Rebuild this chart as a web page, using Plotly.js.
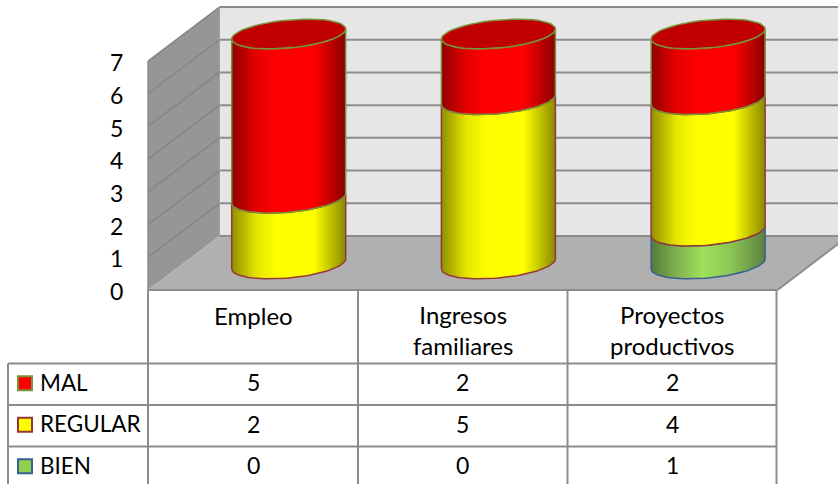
<!DOCTYPE html>
<html><head><meta charset="utf-8">
<script src="https://cdn.plot.ly/plotly-3.0.1.min.js"></script>
<style>html,body{margin:0;padding:0;background:#fff}#c{width:838px;height:484px}</style>
</head><body><div id="c"></div>
<script>
var categories = ["Empleo", "Ingresos<br>familiares", "Proyectos<br>productivos"];
var seriesNames = ["MAL", "REGULAR", "BIEN"];
var mal = [5, 2, 2];
var regular = [2, 5, 4];
var bien = [0, 0, 1];
var yTicks = [0, 1, 2, 3, 4, 5, 6, 7];

var W = 838, H = 484;
var px = function (x) { return x / W; };
var py = function (y) { return 1 - y / H; };
var fontFam = "Lato, Carlito, sans-serif";

// scales: bars (front plane) and the axis on the side wall, both in pixels
var barX0 = 288.7, barDX = 209.7, barY0 = 264, barDY = 32.86;
var axisY0 = 290, axisDY = 32.71, labelShift = 2;
var wallDX = 71.5, wallDY = 54;

var a = 57 / barDX, b = 14 / barDY, s = 5 / barDY;
function arc(i, v, t0, t1, xs, ys) {
  var n = 48;
  for (var k = 0; k <= n; k++) {
    var t = t0 + (t1 - t0) * k / n;
    xs.push(i + a * Math.cos(t));
    ys.push(v + s * Math.cos(t) - b * Math.sin(t));
  }
}
var styles = {
  BIEN: {line: "#376092", scale: [[0, "#557a3a"], [0.22, "#7fb04e"], [0.45, "#9fe05c"], [0.7, "#8cc653"], [1, "#5c8040"]]},
  REGULAR: {line: "#953735", scale: [[0, "#8f8f00"], [0.22, "#e6e600"], [0.4, "#ffff00"], [0.72, "#ffff00"], [1, "#8a8a00"]]},
  MAL: {line: "#77933c", scale: [[0, "#8f0000"], [0.22, "#e60000"], [0.4, "#ff0000"], [0.72, "#ff0000"], [1, "#8a0000"]]}
};
var traces = [];
categories.forEach(function (c, i) {
  var base = 0;
  [["BIEN", bien], ["REGULAR", regular], ["MAL", mal]].forEach(function (p) {
    var v = p[1][i];
    if (v > 0) {
      var xs = [], ys = [];
      arc(i, base, Math.PI, 0, xs, ys);
      arc(i, base + v, 0, Math.PI, xs, ys);
      xs.push(xs[0]); ys.push(ys[0]);
      traces.push({type: "scatter", mode: "lines", x: xs, y: ys, name: p[0], showlegend: false,
        hoverinfo: "name", fill: "toself",
        fillgradient: {type: "horizontal", start: i - a, stop: i + a, colorscale: styles[p[0]].scale},
        line: {color: styles[p[0]].line, width: 1.5}});
    }
    base += v;
  });
  var cx = [], cy = [];
  arc(i, base, 0, 2 * Math.PI, cx, cy);
  traces.push({type: "scatter", mode: "lines", x: cx, y: cy, showlegend: false, hoverinfo: "skip",
    fill: "toself", fillcolor: "#c00000", line: {color: "#77933c", width: 1.5}});
});
// invisible carrier so that the value axis on the side wall is drawn
traces.push({type: "scatter", mode: "markers", x: [0], y: [0], yaxis: "y2", marker: {opacity: 0}, showlegend: false, hoverinfo: "skip"});

// walls, floor, grid
var shapes = [];
function poly(pts, fill, line, lw) {
  var path = pts.map(function (q, k) { return (k ? "L" : "M") + px(q[0]) + "," + py(q[1]); }).join(" ") + " Z";
  shapes.push({type: "path", xref: "paper", yref: "paper", path: path, fillcolor: fill, layer: "below",
    line: {color: line || "rgba(0,0,0,0)", width: lw || 0}});
}
function seg(x0, y0, x1, y1, col, w) {
  shapes.push({type: "line", xref: "paper", yref: "paper", x0: px(x0), y0: py(y0), x1: px(x1), y1: py(y1),
    layer: "below", line: {color: col, width: w}});
}
var L = 148, yTop = axisY0 - 7 * axisDY, bx = L + wallDX;
poly([[bx, yTop - wallDY], [W, yTop - wallDY], [W, axisY0 - wallDY], [bx, axisY0 - wallDY]], "#e6e6e6");
poly([[L, yTop], [bx, yTop - wallDY], [bx, axisY0 - wallDY], [L, axisY0]], "#969696");
poly([[L, axisY0], [bx, axisY0 - wallDY], [W, axisY0 - wallDY], [W, axisY0 - 46], [777.5, axisY0]], "#b0b0b0");
yTicks.forEach(function (v) {
  var y = axisY0 - v * axisDY;
  if (v > 0) seg(L, y, bx, y - wallDY, "#858585", 1.5);
  seg(bx, y - wallDY, W, y - wallDY, "#8c8c8c", 2);
});
seg(bx, yTop - wallDY, bx, axisY0 - wallDY, "#a0a0a0", 1);
seg(L, yTop, L, axisY0, "#8c8c8c", 1.5);
seg(777.5, axisY0, W, axisY0 - 46, "#8c8c8c", 2);

// data table grid
var rowY = [363.5, 405, 446.5];
var colX = [148, 358, 567.5, 776.5];
var cellX = [253, 462.5, 672];
seg(L, axisY0, colX[3], axisY0, "#8c8c8c", 2);
colX.forEach(function (x) { seg(x, axisY0, x, H, "#8c8c8c", 2); });
seg(8, rowY[0], 8, H, "#8c8c8c", 2);
rowY.forEach(function (y) { seg(8, y, colX[3], y, "#8c8c8c", 2); });

// annotations
var ann = [];
function text(x, y, t, anchor, size) {
  ann.push({xref: "paper", yref: "paper", x: px(x), y: py(y), text: t, showarrow: false,
    xanchor: anchor || "center", yanchor: "middle", align: "center",
    font: {family: fontFam, size: size, color: "#000"}, borderpad: 0, borderwidth: 0});
}
categories.forEach(function (c, i) { text(cellX[i], c.indexOf("<br>") > 0 ? 330 : 315, c, "center", 24); });
var tableRows = [mal, regular, bien];
var keyFill = ["#ff0000", "#ffff00", "#92d050"];
var keyLine = ["#77933c", "#953735", "#376092"];
seriesNames.forEach(function (n, r) {
  var yc = (rowY[r] + (rowY[r + 1] || rowY[r] + 41.5)) / 2;
  text(39.5, yc - 2, n, "left", 22.5);
  tableRows[r].forEach(function (v, i) { text(cellX[i], yc - 2, String(v), "center", 23); });
  shapes.push({type: "rect", xref: "paper", yref: "paper", x0: px(18), x1: px(32), y0: py(yc - 8), y1: py(yc + 6),
    fillcolor: keyFill[r], line: {color: keyLine[r], width: 2}, layer: "below"});
});

var layout = {
  width: W, height: H, margin: {l: 0, r: 0, t: 0, b: 0, pad: 0},
  paper_bgcolor: "#fff", plot_bgcolor: "rgba(0,0,0,0)", showlegend: false, hovermode: "closest",
  xaxis: {type: "linear", range: [(0 - barX0) / barDX, (W - barX0) / barDX], visible: false, fixedrange: true},
  yaxis: {range: [(barY0 - H) / barDY, barY0 / barDY], visible: false, fixedrange: true},
  yaxis2: {overlaying: "y", anchor: "free", position: px(L), side: "left",
    range: [(axisY0 + labelShift - H) / axisDY, (axisY0 + labelShift) / axisDY], tickmode: "array", tickvals: yTicks, ticktext: yTicks.map(String),
    ticks: "outside", ticklen: 20, tickcolor: "rgba(0,0,0,0)", tickwidth: 0,
    showgrid: false, zeroline: false, showline: false, fixedrange: true,
    tickfont: {family: fontFam, size: 23, color: "#000"}},
  shapes: shapes, annotations: ann
};
Plotly.newPlot("c", traces, layout, {displayModeBar: false, staticPlot: true});
</script></body></html>
